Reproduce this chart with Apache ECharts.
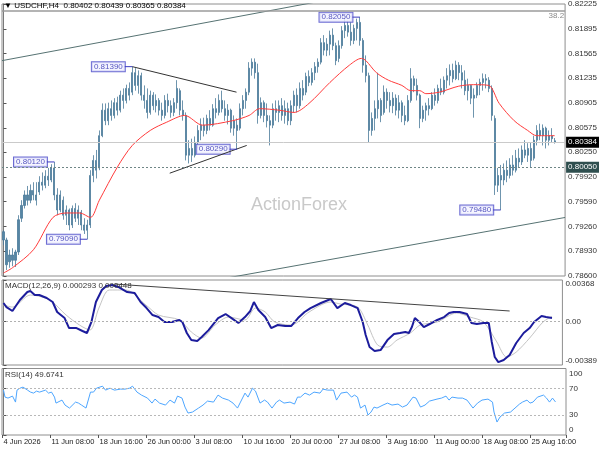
<!DOCTYPE html>
<html><head><meta charset="utf-8">
<script src="https://cdn.jsdelivr.net/npm/echarts@6.0.0/dist/echarts.min.js"></script>
<style>html,body{margin:0;padding:0;background:#fff}#c{width:600px;height:450px}</style>
</head><body><div id="c"></div>
<script>
const symbolName = 'USDCHF,H4';
const timeTicks = ['4 Jun 2026','11 Jun 08:00','18 Jun 16:00','26 Jun 00:00','3 Jul 08:00','10 Jul 16:00','20 Jul 00:00','27 Jul 08:00','3 Aug 16:00','11 Aug 00:00','18 Aug 08:00','25 Aug 16:00'];
const priceTicks = [0.78600,0.78930,0.79260,0.79590,0.79920,0.80250,0.80575,0.80905,0.81235,0.81565,0.81895,0.82225];
const macdTicks = [-0.00389, 0, 0.00368];
const rsiTicks = [0, 30, 70, 100];
const rsiLevels = [70, 30];

// H4 bars: [open, close, low, high]
const ohlc = [
[.7919,.7908,.7901,.7921],[.7908,.7875,.7868,.7911],[.7879,.7888,.7871,.7895],[.7888,.7881,.7873,.7897],[.7881,.7892,.7872,.7895],
[.7892,.7935,.7888,.7941],[.7937,.7954,.7932,.7961],[.7954,.7968,.7950,.7974],[.7968,.7961,.7954,.7980],[.7961,.7974,.7957,.7982],
[.7974,.7968,.7961,.7985],[.7968,.7961,.7954,.7985],[.7972,.7985,.7968,.7993],[.7985,.7981,.7974,.7998],[.7981,.7993,.7977,.8001],
[.7993,.7988,.7980,.8004],[.7988,.8004,.7985,.8009],[.8004,.7968,.7961,.8012],[.7968,.7948,.7941,.7977],[.7948,.7968,.7945,.7974],
[.7961,.7941,.7935,.7966],[.7941,.7948,.7928,.7954],[.7948,.7928,.7921,.7950],[.7928,.7950,.7924,.7954],[.7950,.7937,.7932,.7957],
[.7937,.7948,.7928,.7954],[.7945,.7928,.7921,.7948],[.7928,.7921,.7916,.7937],[.7921,.7928,.7909,.7935],[.7928,.7994,.7924,.8001],
[.7994,.8014,.7985,.8021],[.8014,.8001,.7990,.8028],[.8004,.8047,.8001,.8054],[.8047,.8081,.8045,.8090],[.8081,.8067,.8061,.8090],
[.8067,.8083,.8061,.8091],[.8083,.8074,.8067,.8094],[.8074,.8091,.8070,.8097],[.8091,.8081,.8074,.8099],[.8081,.8101,.8078,.8107],
[.8101,.8094,.8083,.8110],[.8094,.8110,.8090,.8115],[.8110,.8101,.8094,.8118],[.8105,.8131,.8101,.8139],[.8131,.8114,.8107,.8137],
[.8114,.8127,.8103,.8134],[.8127,.8101,.8094,.8131],[.8101,.8094,.8083,.8114],[.8094,.8078,.8070,.8110],[.8078,.8101,.8075,.8107],
[.8101,.8087,.8081,.8105],[.8087,.8094,.8078,.8102],[.8094,.8081,.8074,.8097],[.8081,.8074,.8067,.8091],[.8074,.8094,.8070,.8101],
[.8094,.8087,.8078,.8103],[.8087,.8078,.8071,.8094],[.8078,.8091,.8073,.8097],[.8091,.8110,.8083,.8121],[.8107,.8081,.8074,.8110],
[.8081,.8074,.8067,.8094],[.8074,.8021,.8014,.8078],[.8021,.8030,.8010,.8041],[.8030,.8021,.8012,.8043],[.8021,.8038,.8018,.8046],
[.8038,.8054,.8030,.8061],[.8054,.8061,.8041,.8070],[.8061,.8054,.8046,.8071],[.8054,.8070,.8049,.8075],[.8070,.8061,.8054,.8081],
[.8061,.8083,.8059,.8089],[.8083,.8078,.8070,.8097],[.8078,.8094,.8074,.8102],[.8094,.8083,.8078,.8107],[.8083,.8074,.8067,.8094],
[.8074,.8081,.8062,.8089],[.8081,.8057,.8051,.8083],[.8057,.8067,.8047,.8074],[.8061,.8054,.8029,.8070],[.8057,.8083,.8054,.8090],
[.8083,.8094,.8074,.8101],[.8094,.8105,.8083,.8110],[.8105,.8137,.8101,.8145],[.8137,.8145,.8127,.8150],[.8145,.8131,.8123,.8150],
[.8131,.8074,.8063,.8143],[.8074,.8091,.8070,.8098],[.8091,.8074,.8065,.8094],[.8074,.8067,.8058,.8090],[.8067,.8061,.8034,.8074],
[.8061,.8083,.8057,.8090],[.8083,.8078,.8067,.8094],[.8078,.8087,.8065,.8094],[.8087,.8074,.8067,.8097],[.8074,.8083,.8063,.8094],
[.8083,.8067,.8061,.8091],[.8067,.8087,.8061,.8094],[.8087,.8101,.8078,.8107],[.8101,.8087,.8078,.8110],[.8087,.8110,.8083,.8118],
[.8110,.8101,.8094,.8121],[.8105,.8126,.8101,.8131],[.8126,.8118,.8113,.8134],[.8118,.8131,.8114,.8137],[.8131,.8139,.8121,.8145],
[.8139,.8145,.8131,.8150],[.8145,.8171,.8142,.8177],[.8171,.8161,.8154,.8181],[.8161,.8169,.8153,.8177],[.8169,.8181,.8154,.8187],
[.8181,.8167,.8161,.8190],[.8167,.8147,.8141,.8171],[.8150,.8167,.8145,.8174],[.8167,.8187,.8163,.8193],[.8187,.8194,.8177,.8203],
[.8194,.8185,.8179,.8200],[.8185,.8174,.8167,.8198],[.8174,.8190,.8169,.8195],[.8190,.8198,.8174,.8203],[.8198,.8174,.8167,.8205],
[.8174,.8141,.8131,.8177],[.8141,.8127,.8118,.8154],[.8127,.8054,.8038,.8131],[.8054,.8070,.8047,.8078],[.8070,.8083,.8054,.8094],
[.8083,.8094,.8070,.8131],[.8094,.8074,.8065,.8097],[.8078,.8105,.8075,.8114],[.8105,.8094,.8083,.8110],[.8094,.8087,.8078,.8105],
[.8087,.8097,.8077,.8105],[.8097,.8081,.8074,.8102],[.8081,.8091,.8070,.8101],[.8091,.8074,.8065,.8094],[.8074,.8067,.8061,.8087],
[.8067,.8094,.8065,.8101],[.8094,.8123,.8091,.8137],[.8123,.8114,.8105,.8127],[.8114,.8101,.8094,.8123],[.8101,.8070,.8057,.8103],
[.8070,.8081,.8065,.8087],[.8081,.8087,.8067,.8091],[.8087,.8083,.8074,.8097],[.8083,.8101,.8081,.8105],[.8101,.8094,.8087,.8110],
[.8094,.8110,.8090,.8115],[.8110,.8105,.8101,.8123],[.8105,.8121,.8102,.8126],[.8121,.8127,.8110,.8137],[.8127,.8134,.8114,.8142],
[.8134,.8123,.8118,.8143],[.8123,.8141,.8121,.8147],[.8141,.8131,.8121,.8145],[.8131,.8121,.8110,.8141],[.8121,.8107,.8101,.8134],
[.8107,.8114,.8094,.8123],[.8114,.8097,.8089,.8115],[.8097,.8101,.8071,.8110],[.8101,.8114,.8097,.8118],[.8114,.8118,.8101,.8123],
[.8118,.8123,.8107,.8130],[.8123,.8121,.8110,.8129],[.8121,.8110,.8105,.8125],[.8110,.8074,.8067,.8114],[.8070,.7981,.7968,.8074],
[.7981,.7994,.7972,.8004],[.7994,.7988,.7948,.8008],[.7988,.8001,.7981,.8010],[.8001,.7994,.7985,.8014],[.7994,.8008,.7990,.8017],
[.8008,.8001,.7994,.8021],[.8001,.8017,.7998,.8028],[.8017,.8012,.8004,.8030],[.8012,.8028,.8008,.8034],[.8028,.8021,.8017,.8041],
[.8021,.8030,.8012,.8037],[.8030,.8014,.8005,.8038],[.8017,.8041,.8014,.8047],[.8041,.8054,.8034,.8061],[.8054,.8047,.8041,.8063],
[.8047,.8057,.8034,.8062],[.8057,.8041,.8030,.8059],[.8041,.8047,.8034,.8054],[.8047,.8043,.8038,.8057],[.80402,.80384,.80365,.80439]
];

// moving average [bar index, price]
const ma = [[0,.7864],[3,.7871],[10,.7895],[16.5,.7938],[21,.7944],[25.5,.7944],[29,.7938],[32,.7961],[38,.8005],[43,.8034],[49,.8054],[54.5,.8065],[60.5,.8074],[66.5,.8061],[76.5,.8067],[82,.8074],[85.5,.8083],[92,.8081],[97,.8078],[102,.8090],[109,.8118],[115.5,.8141],[119.5,.8150],[121,.8147],[124.5,.8131],[128.5,.8121],[133,.8114],[136,.8107],[139,.8107],[141,.8103],[145.5,.8105],[152,.8113],[157,.8115],[162,.8114],[165.5,.8090],[170.5,.8067],[175,.8054],[178,.8047],[184,.8047]];

const macdMain = [[0,.00163],[1,.00127],[3,.00092],[5.5,.00190],[8,.00261],[9,.00270],[10.5,.00234],[12,.00234],[14.5,.00208],[16.5,.00172],[18,.00083],[20.5,.00029],[22,-.00060],[24.5,-.00060],[26.5,-.00086],[28,-.00104],[29.5,-.00006],[31,.00172],[33,.00279],[34.5,.00315],[36.5,.00323],[38.5,.00306],[41.5,.00261],[44,.00252],[46,.00172],[48,.00118],[50,.00056],[52,.00038],[54,-.00006],[56.5,-.00006],[59,.00012],[60,-.00006],[61.5,-.00104],[63,-.00167],[65,-.00175],[66.5,-.00140],[68.8,-.00078],[72,.00029],[74.5,.00065],[76.5,.00029],[78.8,-.00015],[81,.00038],[82.8,.00092],[84,.00172],[85.5,.00101],[87.8,.00038],[89.8,-.00060],[92,-.00033],[94.5,-.00042],[96.5,-.00042],[98.8,.00029],[101,.00083],[103,.00118],[106.5,.00163],[109.8,.00199],[112,.00118],[114.5,.00163],[116.5,.00145],[118.8,.00118],[120.5,-.00006],[121.5,-.00122],[122.8,-.00229],[124.5,-.00265],[126.5,-.00256],[128.8,-.00167],[131,-.00113],[133,-.00104],[134.8,-.00095],[136,-.00104],[137,-.00051],[138,.00029],[139.5,-.00006],[141,-.00051],[143,-.00024],[145.5,.00012],[147.8,.00038],[149.5,.00074],[151,.00083],[153,.00083],[155.5,.00065],[157,-.00015],[158.8,-.00024],[161,-.00015],[162.8,-.00015],[163.8,-.00184],[164.8,-.00318],[166,-.00363],[167.8,-.00345],[169.8,-.00300],[172,-.00193],[174.5,-.00104],[176.5,-.00060],[178,-.00006],[180.5,.00047],[182,.00038],[184,.000293]];

const macdSignal = [[0,.00145],[3,.00127],[9,.00234],[15.5,.00190],[21,.00056],[25.5,-.00033],[29,-.00078],[32,.00118],[35.5,.00279],[41,.00279],[47.8,.00145],[52,.00056],[59,.00012],[63,-.00095],[66.5,-.00149],[71,-.00033],[75.5,.00038],[81,.00012],[84.5,.00118],[87.8,.00083],[91,-.00006],[96.5,-.00033],[98.8,-.00006],[102,.00074],[109.8,.00172],[113,.00154],[118.8,.00127],[122.2,-.00033],[125.5,-.00211],[128.8,-.00229],[132,-.00167],[136.5,-.00104],[139.8,-.00033],[145.5,-.00006],[152,.00074],[156.5,.00038],[161,-.00006],[165.5,-.00184],[168.8,-.00318],[172,-.00274],[176.5,-.00149],[181,-.00006],[184,.000448]];

const rsi = [[0,67.5],[0.5,57],[1.5,55.5],[3,58.5],[4,49.5],[4.5,67.5],[5.5,70.4],[6.5,72],[8,67.5],[9,64.5],[10,63],[11,66],[12,64.5],[14,67.5],[15,63],[16,64.5],[17,57],[17.5,48],[18,49.5],[19.5,52.5],[20.5,45],[22,40.5],[24,49.5],[25,48],[26,45],[27.5,40.5],[28,42],[29,64.5],[30,64.5],[31,70.4],[33,73.4],[34,67.5],[35.5,70.4],[37,67.5],[39,69],[40.5,69],[42,70.4],[43,73.4],[44.5,64.5],[46,60],[48,55.5],[49.5,48],[50.5,54],[52,48],[54,45],[55.5,52.5],[57,48],[58,58.5],[59.5,55.5],[60.5,42],[61.5,33],[63,34.5],[65,40.5],[66.5,45],[68,51],[70,49.5],[71.5,60],[73,55.5],[75,52.5],[76.5,48],[78,40.5],[79,49.5],[80.5,63],[81.5,57],[83,70.4],[84,66],[85.5,48],[87,52.5],[88,49.5],[89.5,40.5],[91,49.5],[92,52.5],[93.5,48],[95.5,49.5],[97,46.5],[98,57],[99,57],[100.5,63],[102,60],[103.5,64.5],[105.5,63],[106.5,69],[108,67.5],[110,67.5],[111,52.5],[112.5,63],[114.5,64.5],[116,57],[117,60],[118,57],[119,40.5],[120.5,45],[121.5,30],[122.5,34.5],[123.5,42],[124.5,40.5],[126.5,45],[128,48],[129.5,45],[131.5,46.5],[133,42],[134.5,45],[136.5,57],[137.5,55.5],[139,42],[140.5,45],[142,51],[144.5,54],[146,55.5],[147.5,58.5],[148.5,52.5],[149.5,57],[151.5,55.5],[153,55.5],[154.5,52.5],[156.5,40.5],[158,48],[159.5,52.5],[161.5,54],[163,49.5],[163.5,34.5],[164.5,19.5],[165.5,27],[167,33],[169,34.5],[170.5,40.5],[172,46.5],[173,49.5],[174.5,52.5],[175.5,48],[176.5,49.5],[178,57],[180,60],[181,55.5],[182,49.5],[183,55.5],[184,49.6741]];

// annotations [bar index, value]
const pivots = [[17,0.8012],[28,0.7909],[43,0.8139],[78,0.8029],[119,0.8205],[166,0.7948]];
const channelUpper = [[-0.5,0.8147],[105.5,0.8226]];
const channelLower = [[75.5,0.7858],[187.5,0.7938]];
const triangleUpper = [[43,0.8139],[77.8,0.8105]];
const triangleLower = [[55.5,0.7997],[81.2,0.8034]];
const macdTrend = [[37.2,0.00332],[169.8,0.00092]];
const fibLevel = 0.82139, fibLabel = '38.2';
const supportLevel = 0.80050;

const FONT = "'Liberation Sans', Arial, sans-serif";
const N = 188;
const categories = Array.from({length: N}, (_, i) => String(i));
const last = ohlc[ohlc.length - 1];
const lastClose = last[1];
const rsiMin = rsiTicks[0], rsiMax = rsiTicks[rsiTicks.length - 1];

const grid = [
  {left:2, right:34, top:3.5, height:272.5},
  {left:2, right:34, top:280, height:85},
  {left:2, right:34, top:368.5, height:66.5}
].map(g => Object.assign(g, {show:true, borderColor:'#8e8e8e', borderWidth:1}));

// vertical position of an RSI value inside the RSI panel (same linear scale as the axis)
const rsiY = v => grid[2].top + (rsiMax - v) / (rsiMax - rsiMin) * grid[2].height;

const xVal = gi => ({type:'value', gridIndex:gi, min:-0.5, max:N-0.5, show:false, position:'top'});

function yAx(gi, min, max, ticks, labelVals, fmt, edge) {
  const lab = {customValues: labelVals, formatter: fmt, fontSize:8, color:'#333', fontFamily:FONT, margin:3,
    showMinLabel:true, showMaxLabel:true, hideOverlap:false};
  if (edge) { lab.verticalAlignMinLabel = 'bottom'; lab.verticalAlignMaxLabel = 'top'; }
  return {type:'value', gridIndex:gi, position:'right', min, max,
    axisLine:{show:true, lineStyle:{color:'#7a7a7a'}},
    axisTick:{show:true, length:3, customValues: ticks, lineStyle:{color:'#555'}},
    axisLabel: lab, splitLine:{show:false}};
}

function lineS(data, xi, yi, color, width, extra) {
  return Object.assign({type:'line', data, xAxisIndex:xi, yAxisIndex:yi, symbol:'none', silent:true,
    animation:false, lineStyle:{color, width}, itemStyle:{color}}, extra || {});
}

const edgeLab = (bg, txt) => ({show:true, position:'end', formatter: txt, color:'#fff', backgroundColor:bg,
  padding:[2,2,1,2], fontSize:8, fontFamily:FONT, distance:1});

const series = [
  lineS(channelUpper, 1, 0, '#567272', 1, {markLine:{silent:true, precision:5, symbol:['none','none'], animation:false, data:[
    {yAxis: fibLevel, lineStyle:{color:'#9b9b9b', width:1.5, type:'solid'},
      label:{show:true, position:'insideEndBottom', formatter: fibLabel, color:'#8a8a8a', fontSize:8, fontFamily:FONT, distance:1}},
    {yAxis: supportLevel, lineStyle:{color:'#6f8686', width:1, type:[2,2]}, label: edgeLab('#2f4f4f', supportLevel.toFixed(5))},
    {yAxis: lastClose, lineStyle:{color:'#cacaca', width:1, type:'solid'}, label: edgeLab('#000', lastClose.toFixed(5))}
  ]}}),
  lineS(channelLower, 1, 0, '#567272', 1),
  {type:'candlestick', xAxisIndex:0, yAxisIndex:0, data: ohlc, barWidth:1.6, silent:true, animation:false,
    itemStyle:{color:'#5686a5', color0:'#5686a5', borderColor:'#4a7a99', borderColor0:'#4a7a99', borderWidth:0.8}},
  lineS(ma, 1, 0, '#ff3b3b', 1, {smooth:0.3}),
  lineS(triangleUpper, 1, 0, '#333', 1),
  lineS(triangleLower, 1, 0, '#333', 1),
  ...pivots.map(p => lineS([[p[0]-2.5, p[1]],[p[0], p[1]]], 1, 0, '#3c3cc0', 1)),
  {type:'scatter', xAxisIndex:1, yAxisIndex:0, symbolSize:0, silent:true, animation:false,
    data: pivots.map(p => [p[0]-2.5, p[1]]),
    label:{show:true, position:'left', distance:0, formatter: d => d.value[1].toFixed(5),
      color:'#2b2bb0', backgroundColor:'#f3f3ff', borderColor:'#4646c8', borderWidth:1,
      padding:[1,2,0,2], fontSize:8, fontFamily:FONT}},
  lineS(macdSignal, 2, 1, '#c4c4c4', 1, {smooth:0.3, markLine:{silent:true, precision:5, symbol:['none','none'], animation:false,
    label:{show:false}, data:[{yAxis:0, lineStyle:{color:'#b0b0b0', width:1, type:[2,2]}}]}}),
  lineS(macdMain, 2, 1, '#1c1c9c', 2),
  lineS(macdTrend, 2, 1, '#444', 1),
  lineS(rsi, 3, 2, '#4da6ff', 1, {markLine:{silent:true, symbol:['none','none'], animation:false,
    label:{show:false}, data: rsiLevels.map(v => ({yAxis:v, lineStyle:{color:'#b8b8b8', width:1, type:[2,2]}}))}})
];

const option = {
  animation:false,
  backgroundColor:'#fff',
  grid,
  xAxis:[
    {type:'category', gridIndex:0, data:categories, show:false, position:'bottom'},
    xVal(0), xVal(1), xVal(2),
    {type:'category', gridIndex:2, data:categories, boundaryGap:true, position:'bottom',
      axisLine:{show:false},
      axisTick:{show:true, interval:(i)=>i%16===0, length:3, lineStyle:{color:'#555'}},
      axisLabel:{interval:(i)=>i%16===0, formatter:(v,i)=>timeTicks[i/16] || '', align:'left',
        fontSize:7.5, color:'#222', fontFamily:FONT, margin:3},
      splitLine:{show:false}}
  ],
  yAxis:[
    yAx(0, 0.786, 0.82225, priceTicks, priceTicks, v => v.toFixed(5), false),
    yAx(1, -0.00389, 0.00368, macdTicks, macdTicks, v => v === 0 ? '0.00' : v.toFixed(5), true),
    yAx(2, rsiMin, rsiMax, rsiTicks, rsiTicks.slice(1, -1), v => String(v), false)
  ],
  graphic:[
    {type:'text', left:4, top:2, z:100, style:{text:'▼ ' + symbolName + '  ' + [last[0], last[3], last[2], last[1]].map(v => v.toFixed(5)).join(' '), fontSize:8, fontFamily:FONT, fill:'#000'}},
    {type:'text', left:251, top:196, z:1, style:{text:'ActionForex', fontSize:18, fontFamily:FONT, fill:'#c9c9c9'}},
    {type:'text', left:5, top:282, z:100, style:{text:'MACD(12,26,9) ' + macdMain[macdMain.length-1][1].toFixed(6) + ' ' + macdSignal[macdSignal.length-1][1].toFixed(6), fontSize:8, fontFamily:FONT, fill:'#333'}},
    {type:'text', left:5, top:371, z:100, style:{text:'RSI(14) ' + rsi[rsi.length-1][1].toFixed(4), fontSize:8, fontFamily:FONT, fill:'#333'}},
    {type:'text', left:569, top:rsiY(rsiMax) + 1, z:100, style:{text:String(rsiMax), fontSize:8, fontFamily:FONT, fill:'#333'}},
    {type:'text', left:569, top:rsiY(rsiMin) - 9, z:100, style:{text:String(rsiMin), fontSize:8, fontFamily:FONT, fill:'#333'}}
  ],
  series
};
echarts.init(document.getElementById('c')).setOption(option);
</script></body></html>
